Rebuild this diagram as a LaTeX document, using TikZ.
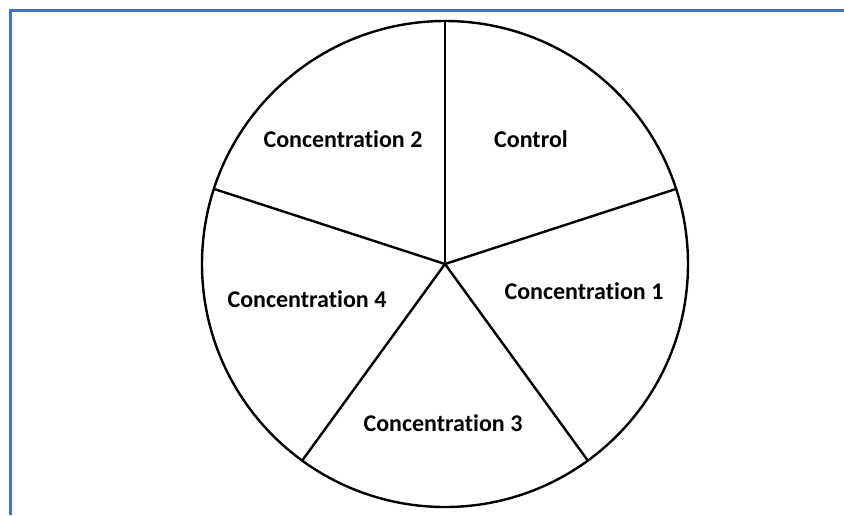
\documentclass[tikz,border=0pt]{standalone}
\usepackage{fontspec}
\setmainfont{Carlito}[Ligatures={NoCommon}]
\usetikzlibrary{calc}
\definecolor{frameblue}{HTML}{4472C4}
\begin{document}
\begin{tikzpicture}[x=1pt,y=-1pt,
  lbl/.style={font=\fontsize{24}{28}\selectfont\bfseries, inner sep=0pt},
  spoke/.style={line width=2.4pt, black}]
\useasboundingbox (0,0) rectangle (844,515);
\fill[white] (0,0) rectangle (844,515);
\draw[frameblue, line width=3pt] (10,515) -- (10,10) -- (844,10);
\coordinate (c) at (445,264);
\draw[spoke] (c) circle[radius=243];
\foreach \a/\n in {90/p0,18/p1,-54/p2,-126/p3,162/p4}{
  \coordinate (\n) at ($(c)+(-\a:243)$);
}
\foreach \n in {p0,p1,p2,p3,p4}{
  \draw[spoke] (c) -- (\n);
}
\node[lbl] (t0) at (531,139) {Control};
\node[lbl] (t2) at (343,139) {Concentration 2};
\node[lbl] (t1) at (584,291) {Concentration 1};
\node[lbl] (t4) at (307,299) {Concentration 4};
\node[lbl] (t3) at (443,423) {Concentration 3};
\end{tikzpicture}
\end{document}
